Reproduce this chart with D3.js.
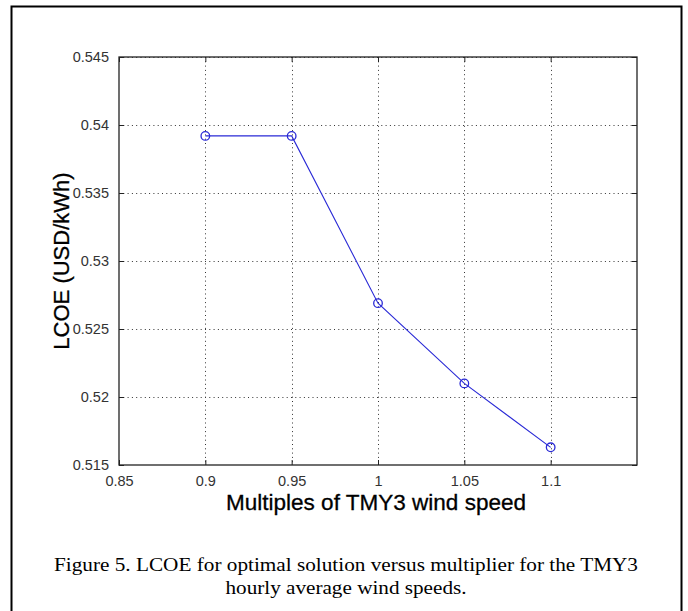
<!DOCTYPE html>
<html>
<head>
<meta charset="utf-8">
<script src="https://cdn.jsdelivr.net/npm/d3@7"></script>
<style>
  html, body { margin: 0; padding: 0; background: #fff; }
  svg { display: block; }
</style>
</head>
<body>
<svg id="chart" width="688" height="611"></svg>
<script>
// ---- data ----
const multipliers = [0.9, 0.95, 1.0, 1.05, 1.1];
const lcoe = [0.5392, 0.5392, 0.5269, 0.5210, 0.5163];
const xTicks = [0.85, 0.9, 0.95, 1.0, 1.05, 1.1];
const xTickLabels = ["0.85", "0.9", "0.95", "1", "1.05", "1.1"];
const yTicks = [0.515, 0.52, 0.525, 0.53, 0.535, 0.54, 0.545];
const yTickLabels = ["0.515", "0.52", "0.525", "0.53", "0.535", "0.54", "0.545"];
const xLabel = "Multiples of TMY3 wind speed";
const yLabel = "LCOE (USD/kWh)";
const captionLines = [
  "Figure 5. LCOE for optimal solution versus multiplier for the TMY3",
  "hourly average wind speeds."
];

// ---- layout ----
const svg = d3.select("#chart");
const plot = { left: 119, top: 57, right: 637, bottom: 465 };

const x = d3.scaleLinear().domain([0.85, 1.15]).range([plot.left, plot.right]);
const y = d3.scaleLinear().domain([0.515, 0.545]).range([plot.bottom, plot.top]);

// outer frame
svg.append("rect")
  .attr("x", 11.5).attr("y", 6.5)
  .attr("width", 670).attr("height", 640)
  .attr("fill", "none").attr("stroke", "#000").attr("stroke-width", 2);

const g = svg.append("g");

// grid lines (dotted)
g.append("g").selectAll("line").data(xTicks.slice(1)).join("line")
  .attr("x1", d => Math.round(x(d)) + 0.5).attr("x2", d => Math.round(x(d)) + 0.5)
  .attr("y1", plot.top).attr("y2", plot.bottom)
  .attr("stroke", "#333").attr("stroke-width", 1).attr("stroke-dasharray", "1,3.3");
g.append("g").selectAll("line").data(yTicks.slice(1)).join("line")
  .attr("x1", plot.left).attr("x2", plot.right)
  .attr("y1", d => Math.round(y(d)) + 0.5).attr("y2", d => Math.round(y(d)) + 0.5)
  .attr("stroke", "#333").attr("stroke-width", 1).attr("stroke-dasharray", "1,3.3");

// axes via d3 axis (inward ticks)
const fmtX = d => xTickLabels[xTicks.indexOf(d)];
const fmtY = d => yTickLabels[yTicks.indexOf(d)];

const axB = g.append("g").attr("transform", `translate(0,${plot.bottom})`)
  .call(d3.axisBottom(x).tickValues(xTicks).tickFormat(fmtX).tickSizeInner(-5).tickSizeOuter(0).tickPadding(11));
const axT = g.append("g").attr("transform", `translate(0,${plot.top})`)
  .call(d3.axisTop(x).tickValues(xTicks).tickFormat("").tickSizeInner(-5).tickSizeOuter(0));
const axL = g.append("g").attr("transform", `translate(${plot.left},0)`)
  .call(d3.axisLeft(y).tickValues(yTicks).tickFormat(fmtY).tickSizeInner(-5).tickSizeOuter(0).tickPadding(10));
const axR = g.append("g").attr("transform", `translate(${plot.right},0)`)
  .call(d3.axisRight(y).tickValues(yTicks).tickFormat("").tickSizeInner(-5).tickSizeOuter(0));

[axB, axT, axL, axR].forEach(a => {
  a.select(".domain").remove();
  a.selectAll(".tick line").attr("stroke", "#222").attr("stroke-width", 1);
  a.selectAll("text")
    .attr("font-family", "'Liberation Sans', Arial, sans-serif")
    .attr("font-size", 14.5)
    .attr("fill", "#333");
});

// axis box
g.append("rect")
  .attr("x", plot.left).attr("y", plot.top)
  .attr("width", plot.right - plot.left).attr("height", plot.bottom - plot.top)
  .attr("fill", "none").attr("stroke", "#222").attr("stroke-width", 1.3);

// data line
const pts = multipliers.map((m, i) => [m, lcoe[i]]);
const blue = "#2a2ad6";
g.append("path")
  .datum(pts)
  .attr("d", d3.line().x(d => x(d[0])).y(d => y(d[1])))
  .attr("fill", "none").attr("stroke", blue).attr("stroke-width", 1.1);
g.append("g").selectAll("circle").data(pts).join("circle")
  .attr("cx", d => x(d[0])).attr("cy", d => y(d[1])).attr("r", 4.3)
  .attr("fill", "none").attr("stroke", blue).attr("stroke-width", 1.3);

// axis labels
svg.append("text")
  .attr("x", 376).attr("y", 510)
  .attr("text-anchor", "middle")
  .attr("font-family", "'Liberation Sans', Arial, sans-serif")
  .attr("font-size", 22).attr("fill", "#000")
  .attr("stroke", "#000").attr("stroke-width", 0.3)
  .attr("textLength", 300).attr("lengthAdjust", "spacingAndGlyphs")
  .text(xLabel);
svg.append("text")
  .attr("transform", `translate(69,${(plot.top + plot.bottom) / 2}) rotate(-90)`)
  .attr("text-anchor", "middle")
  .attr("font-family", "'Liberation Sans', Arial, sans-serif")
  .attr("font-size", 22).attr("fill", "#000")
  .attr("stroke", "#000").attr("stroke-width", 0.3)
  .text(yLabel);

// caption
const capLengths = [584, 241];
svg.append("g").selectAll("text").data(captionLines).join("text")
  .attr("x", 346).attr("y", (d, i) => 570.5 + i * 23)
  .attr("text-anchor", "middle")
  .attr("font-family", "'Liberation Serif', 'Times New Roman', serif")
  .attr("font-size", 18).attr("fill", "#000")
  .attr("textLength", (d, i) => capLengths[i]).attr("lengthAdjust", "spacingAndGlyphs")
  .text(d => d);
</script>
</body>
</html>
